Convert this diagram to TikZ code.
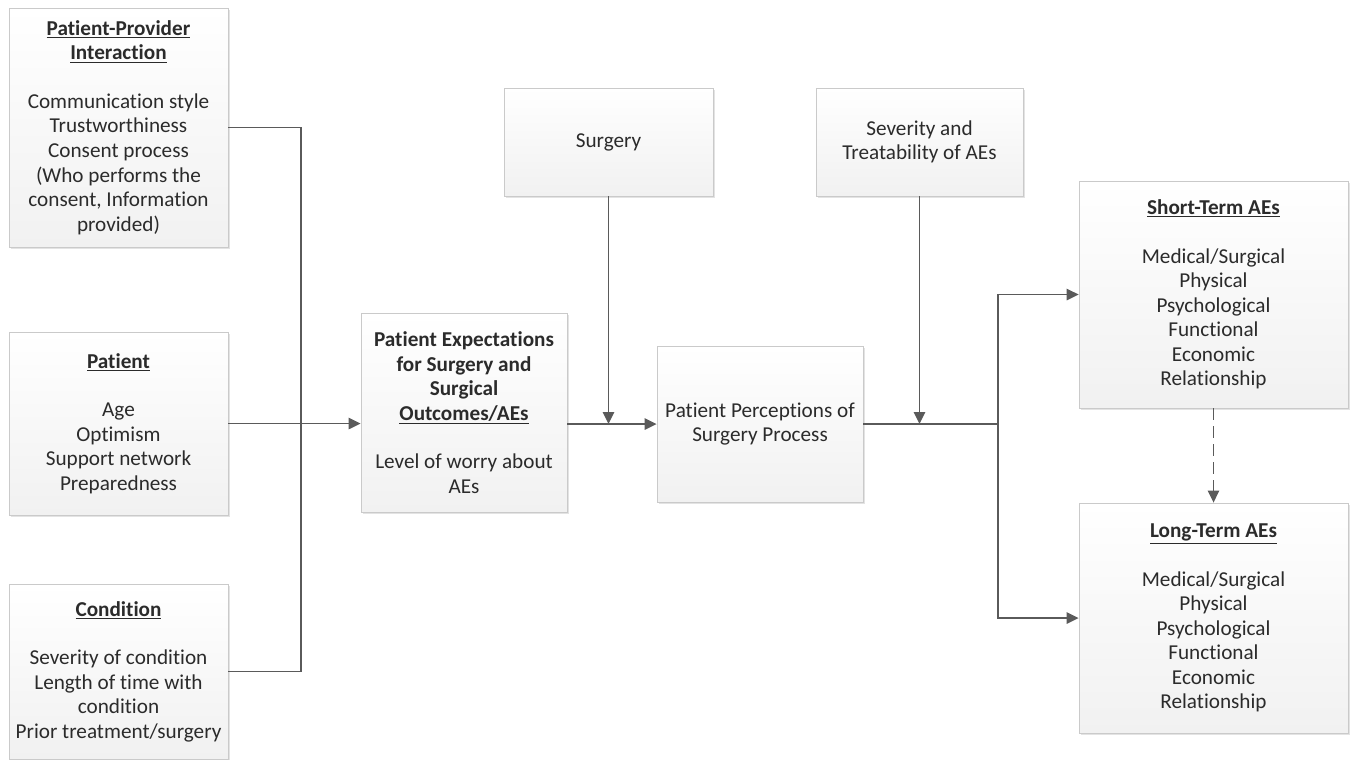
\documentclass[tikz,border=0pt]{standalone}
\usepackage{fontspec}
\setmainfont{Carlito}[Ligatures=NoCommon]
\usetikzlibrary{arrows.meta,shadows,calc}
\definecolor{txt}{HTML}{2B2B2B}
\definecolor{ln}{HTML}{5A5A5A}
\definecolor{bd}{HTML}{CACACA}
\newcommand{\ttl}[1]{\textbf{\underline{#1}}}
\begin{document}
\begin{tikzpicture}[x=0.75pt,y=-0.75pt,
  box/.style={draw=bd, line width=0.6pt, top color=white, bottom color=gray!11,
    inner sep=0pt, align=center, text=txt,
    font=\fontsize{15.9pt}{18.4pt}\selectfont,
    drop shadow={shadow xshift=1.2pt, shadow yshift=-1.2pt, opacity=0.22, fill=black!50}},
  conn/.style={draw=ln, line width=1.45pt},
  arr/.style={conn, -{Triangle[length=9pt,width=8.5pt]}},
  dasharr/.style={arr, line width=1.2pt, dash pattern=on 8.5pt off 5pt},
]
\useasboundingbox (0,0) rectangle (1356,760);

\node[box, minimum width=164.25pt, minimum height=179.25pt] (ppi) at (118.5,127.5)
  {\ttl{Patient-Provider}\\ \ttl{Interaction}\\[18pt]
   Communication style\\ Trustworthiness\\ Consent process\\ (Who performs the\\ consent, Information\\ provided)};
\node[box, minimum width=164.25pt, minimum height=137.25pt] (pat) at (118.5,423.5)
  {\ttl{Patient}\\[18pt] Age\\ Optimism\\ Support network\\ Preparedness};
\node[box, minimum width=164.25pt, minimum height=131.25pt] (cond) at (118.5,671.5)
  {\ttl{Condition}\\[18pt] Severity of condition\\ Length of time with\\ condition\\ Prior treatment/surgery};
\node[box, minimum width=154.5pt, minimum height=149.25pt] (exp) at (464,412.5)
  {\textbf{Patient Expectations}\\ \textbf{for Surgery and}\\ \textbf{Surgical}\\ \ttl{Outcomes/AEs}\\[18pt] Level of worry about\\ AEs};
\node[box, minimum width=156.75pt, minimum height=81pt] (surg) at (608.5,142) {Surgery};
\node[box, minimum width=155.25pt, minimum height=81pt] (sev) at (919.5,142) {Severity and\\ Treatability of AEs};
\node[box, minimum width=154.5pt, minimum height=117pt] (perc) at (760,424) {Patient Perceptions of\\ Surgery Process};
\node[box, minimum width=201.75pt, minimum height=170.25pt] (st) at (1213.5,294.5)
  {\ttl{Short-Term AEs}\\[18pt] Medical/Surgical\\ Physical\\ Psychological\\ Functional\\ Economic\\ Relationship};
\node[box, minimum width=201.75pt, minimum height=172.5pt] (lt) at (1213.5,618)
  {\ttl{Long-Term AEs}\\[18pt] Medical/Surgical\\ Physical\\ Psychological\\ Functional\\ Economic\\ Relationship};

\coordinate (bus) at (301,424);
\coordinate (split) at (998,424);

\draw[conn] (ppi.east) -| (bus);
\draw[conn] (cond.east) -| (bus);
\draw[arr] (pat.east) -- (pat.east -| exp.west);
\draw[arr] (exp.east |- perc.west) -- (perc.west);
\draw[arr] (surg.south) -- (surg.south |- perc.west);
\draw[arr] (sev.south) -- (sev.south |- perc.east);
\draw[conn] (perc.east) -- (split);
\draw[arr] (split) |- (st.west);
\draw[arr] (split) |- (lt.west);
\draw[dasharr] (st.south) -- (lt.north);
\end{tikzpicture}
\end{document}
